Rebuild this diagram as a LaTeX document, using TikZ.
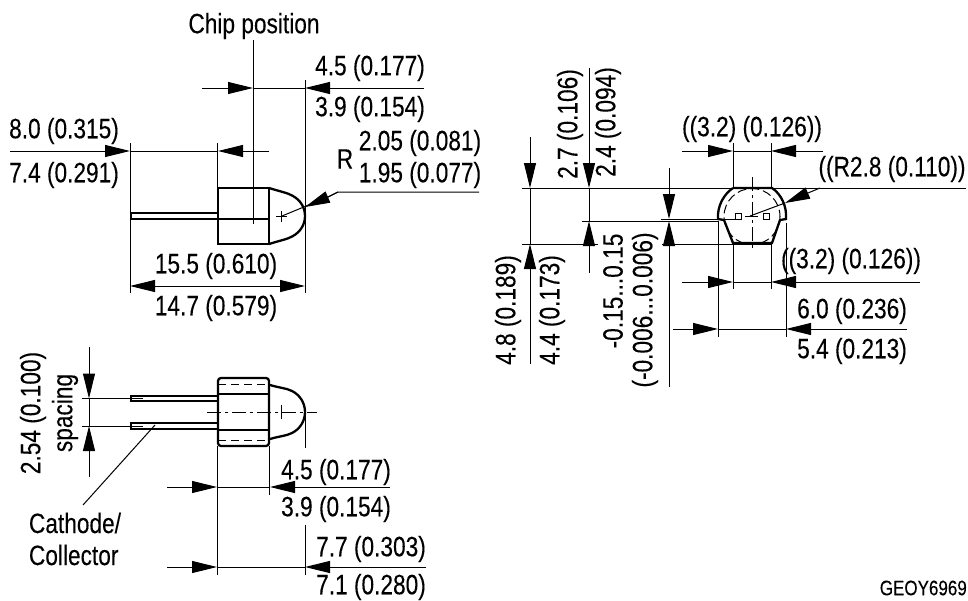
\documentclass[tikz,border=0pt]{standalone}
\usepackage{fontspec}
\setmainfont[FakeStretch=0.81,FakeBold=0.15]{Liberation Sans}
\usepackage{tikz}
\usetikzlibrary{arrows.meta}

\begin{document}
\begin{tikzpicture}[x=1pt, y=-1pt,
    dimtext/.style={inner sep=0pt, font=\fontsize{28}{32}\selectfont, align=left},
    smalltext/.style={inner sep=0pt, font=\fontsize{21}{24}\selectfont},
    dimline/.style={line width=1pt},
    dimarrow/.style={line width=1pt, -{Triangle[length=25pt,width=12pt]}},
    partline/.style={line width=2.3pt, line join=miter},
    leadline/.style={line width=1.4pt},
    hiddenline/.style={line width=1pt, dash pattern=on 8pt off 5pt},
    centerline/.style={line width=1pt, dash pattern=on 14pt off 4pt on 3pt off 4pt}
]
\useasboundingbox (0,0) rectangle (968,600);

% Side view: chip position
\node[dimtext] (chip) at (254,26) {Chip position};
\draw[dimline] (253,40) -- (253,224);
\draw[dimline] (305,80) -- (305,293);
\draw[dimline] (130,143) -- (130,293);
\draw[dimline] (217.5,143) -- (217.5,188);
\draw[dimarrow] (202,88) -- (253,88);
\draw[dimarrow] (424,88) -- (305,88);
\draw[dimline] (253,88) -- (305,88);
\node[dimtext] (chipa) at (370,68) {4.5 (0.177)};
\node[dimtext] (chipb) at (370,109) {3.9 (0.154)};
\draw[dimarrow] (10,151) -- (130,151);
\draw[dimarrow] (269,151) -- (218,151);
\draw[dimline] (130,151) -- (218,151);
\node[dimtext] (lensa) at (64,131) {8.0 (0.315)};
\node[dimtext] (lensb) at (64,175) {7.4 (0.291)};

% Side view: body
\draw[partline] (218,188) rectangle (269,244);
\draw[partline] (218,219) -- (269,219);
\draw[partline] (269,188) .. controls (282,192) and (288,193) .. (293,196)
    .. controls (300,200) and (305,207) .. (305,216)
    .. controls (305,225) and (300,232) .. (293,236)
    .. controls (288,239) and (282,240) .. (269,244);
\draw[leadline] (218,213) -- (131,213) -- (131,219) -- (218,219);
\draw[dimline] (276,216) -- (287,216);
\draw[dimline] (281.5,210.5) -- (281.5,221.5);
\draw[dimline] (282,216) -- (328,197) -- (338,192) -- (479,192);
\draw[dimarrow] (338,192) -- (328,197) -- (305,207);
\node[dimtext] (radius) at (345,159) {R};
\node[dimtext] (rada) at (420,143) {2.05 (0.081)};
\node[dimtext] (radb) at (420,175) {1.95 (0.077)};
\draw[dimarrow] (216,286) -- (130,286);
\draw[dimarrow] (216,286) -- (305,286);
\node[dimtext] (lena) at (216,266) {15.5 (0.610)};
\node[dimtext] (lenb) at (216,308) {14.7 (0.579)};

% Top view: body and leads
\draw[partline, rounded corners=3pt] (218,378) -- (269,378) -- (269,446) -- (218,446) -- cycle;
\draw[partline] (218,394) -- (269,394);
\draw[partline] (218,430) -- (269,430);
\draw[hiddenline] (218,384) -- (269,384);
\draw[hiddenline] (218,440) -- (269,440);
\draw[partline] (270,385) .. controls (280,388) and (286,388) .. (292,391)
    .. controls (300,395) and (305,403) .. (305,412)
    .. controls (305,421) and (300,429) .. (292,433)
    .. controls (286,436) and (280,436) .. (270,439);
\draw[centerline] (207,412) -- (317,412);
\draw[dimline] (281.5,405) -- (281.5,419);
\draw[leadline] (218,396) -- (131,396) -- (131,401) -- (218,401);
\draw[leadline] (218,423) -- (131,423) -- (131,429) -- (218,429);
\draw[dimline] (82,398.5) -- (143,398.5);
\draw[dimline] (82,426) -- (143,426);
\draw[dimarrow] (89,347) -- (89,398.5);
\draw[dimarrow] (89,477) -- (89,426);
\draw[dimline] (89,398.5) -- (89,426);
\node[dimtext, rotate=90] (pitcha) at (33,413) {2.54 (0.100)};
\node[dimtext, rotate=90] (pitchb) at (65,413) {spacing};
\draw[dimline] (83,505) -- (155,425);
\node[dimtext] (cathode) at (75,539) {Cathode/\\Collector};

% Top view: dimensions
\draw[dimline] (217,446) -- (217,575);
\draw[dimline] (269,446) -- (269,495);
\draw[dimline] (305,412) -- (305,448);
\draw[dimline] (305,525) -- (305,575);
\draw[dimarrow] (167,487) -- (217,487);
\draw[dimarrow] (390,487) -- (270,487);
\draw[dimline] (217,487) -- (270,487);
\node[dimtext] (flata) at (336,472) {4.5 (0.177)};
\node[dimtext] (flatb) at (336,509) {3.9 (0.154)};
\draw[dimarrow] (167,567) -- (217,567);
\draw[dimarrow] (426,567) -- (305,567);
\draw[dimline] (217,567) -- (305,567);
\node[dimtext] (tipa) at (371,549) {7.7 (0.303)};
\node[dimtext] (tipb) at (371,587) {7.1 (0.280)};

% Front view: outline
\draw[partline] (733,188) -- (772,188) .. controls (781,194) and (787,206) .. (786,219)
    -- (780,220) -- (772,243) -- (733,243) -- (724,220) -- (718,219)
    .. controls (717,206) and (724,194) .. (733,188);
\draw[dimline, dash pattern=on 9pt off 4pt] (752,216.5) circle (28);
\draw[centerline] (752,177) -- (752,250);
\draw[dimline] (735,213) rectangle (741,219);
\draw[dimline] (763,213) rectangle (769,219);
\draw[dimline] (745,216) -- (758,216);

% Front view: left dimensions
\draw[dimline] (522,188) -- (966,188);
\draw[dimline] (582,221) -- (718,221);
\draw[dimline] (661,219) -- (740,219);
\draw[dimline] (522,244) -- (598,244);
\draw[dimline] (662,244) -- (772,244);
\draw[dimarrow] (530,137) -- (530,188);
\draw[dimarrow] (530,364) -- (530,244);
\draw[dimline] (530,188) -- (530,244);
\draw[dimarrow] (589,68) -- (589,188);
\draw[dimarrow] (589,273) -- (589,221);
\draw[dimline] (589,188) -- (589,221);
\draw[dimarrow] (669,168) -- (669,219);
\draw[dimarrow] (669,387) -- (669,221);
\node[dimtext, rotate=90] (heighta) at (570,124) {2.7 (0.106)};
\node[dimtext, rotate=90] (heightb) at (608,122) {2.4 (0.094)};
\node[dimtext, rotate=90] (widtha) at (508,310) {4.8 (0.189)};
\node[dimtext, rotate=90] (widthb) at (552,310) {4.4 (0.173)};
\node[dimtext, rotate=90] (offseta) at (613,291) {-0.15...0.15};
\node[dimtext, rotate=90] (offsetb) at (645,310) {(-0.006...0.006)};

% Front view: right dimensions
\draw[dimline] (733,143) -- (733,188);
\draw[dimline] (771,143) -- (771,188);
\draw[dimline] (733,244) -- (733,289);
\draw[dimline] (771,244) -- (771,289);
\draw[dimarrow] (682,151) -- (733,151);
\draw[dimarrow] (823,151) -- (771,151);
\draw[dimline] (733,151) -- (771,151);
\node[dimtext] (flattop) at (752,129) {((3.2) (0.126))};
\draw[dimarrow] (682,282) -- (733,282);
\draw[dimarrow] (920,282) -- (771,282);
\draw[dimline] (733,282) -- (771,282);
\node[dimtext] (flatbot) at (851,261) {((3.2) (0.126))};
\draw[dimline] (750,216) -- (785,203);
\draw[dimarrow] (820,188) -- (808,193) -- (785,203);
\node[dimtext] (radfront) at (892,169) {((R2.8 (0.110))};
\draw[dimline] (718,221) -- (718,337);
\draw[dimline] (786,223) -- (786,337);
\draw[dimarrow] (673,329) -- (718,329);
\draw[dimarrow] (907,329) -- (786,329);
\draw[dimline] (718,329) -- (786,329);
\node[dimtext] (spana) at (852,311) {6.0 (0.236)};
\node[dimtext] (spanb) at (852,351) {5.4 (0.213)};

\node[smalltext, anchor=east] (geoy) at (967,588) {GEOY6969};
\end{tikzpicture}
\end{document}
